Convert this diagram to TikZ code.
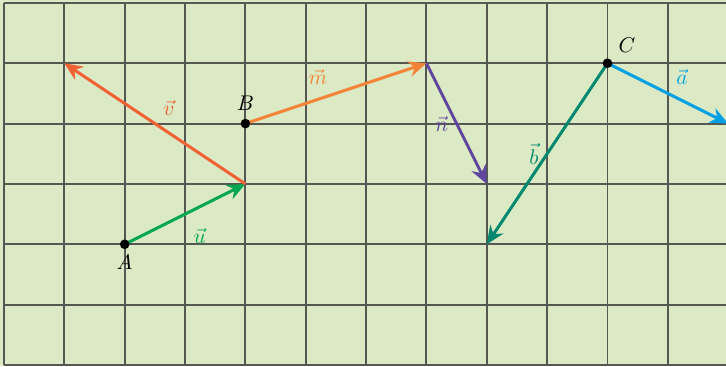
\documentclass[tikz,border=0pt]{standalone}
\usepackage{tikz}
\usetikzlibrary{arrows.meta, positioning, calc}
\usepackage{amsmath, amssymb}
\usepackage{xcolor}
\definecolor{gridbg}{RGB}{219, 233, 196}
\definecolor{gridline}{RGB}{85, 88, 82}
\definecolor{ucol}{RGB}{0, 166, 81}
\definecolor{vcol}{RGB}{240, 98, 52}
\definecolor{mcol}{RGB}{242, 132, 55}
\definecolor{ncol}{RGB}{96, 70, 158}
\definecolor{bcol}{RGB}{0, 136, 110}
\definecolor{acol}{RGB}{0, 160, 226}

\begin{document}
\begin{tikzpicture}[
    vec/.style={-{Stealth[length=3mm, width=2.6mm]}, line width=1.4pt},
    pt/.style={circle, fill=black, inner sep=0pt, minimum size=1.6mm},
    lbl/.style={font=\normalsize}
]
    \useasboundingbox (-0.066,-0.017) rectangle (11.964,6.048);
    \fill[gridbg] (-0.066,-0.017) rectangle (11.964,6.048);
    \draw[gridline, line width=0.9pt] (0,0) grid (12,6);

    % points
    \coordinate (A) at (2,2);
    \coordinate (U) at (4,3);
    \coordinate (V) at (1,5);
    \coordinate (B) at (4,4);
    \coordinate (M) at (7,5);
    \coordinate (N) at (8,3);
    \coordinate (C) at (10,5);
    \coordinate (Bv) at (8,2);
    \coordinate (Av) at (12,4);

    \draw[vec, ucol] (A) -- (U) node[midway, below right, yshift=-1mm, lbl] {$\vec{u}$};
    \draw[vec, vcol] (U) -- (V) node[midway, above right, lbl] {$\vec{v}$};
    \draw[vec, mcol] (B) -- (M) node[midway, above left, lbl] {$\vec{m}$};
    \draw[vec, ncol] (M) -- (N) node[midway, left, lbl] {$\vec{n}$};
    \draw[vec, bcol] (C) -- (Bv) node[midway, left, lbl] {$\vec{b}$};
    \draw[vec, acol] (C) -- (Av) node[midway, above right, lbl] {$\vec{a}$};

    \node[pt] (dotA) at (A) {};
    \node[pt] (dotB) at (B) {};
    \node[pt] (dotC) at (C) {};
    \node[below=-1pt of dotA] {$A$};
    \node[above=0pt of dotB] {$B$};
    \node[above right=0pt of dotC] {$C$};
\end{tikzpicture}
\end{document}
